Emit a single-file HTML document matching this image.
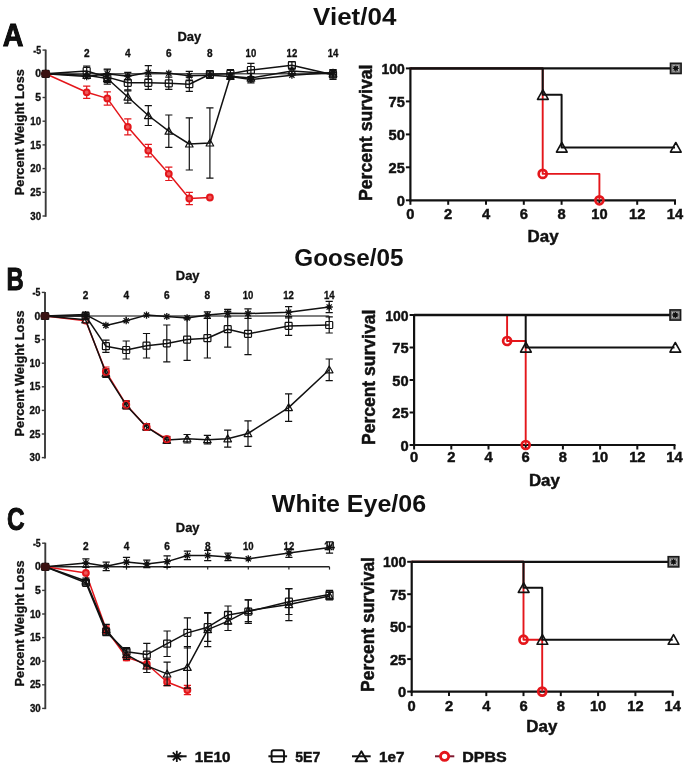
<!DOCTYPE html>
<html><head><meta charset="utf-8"><title>Figure</title>
<style>
html,body{margin:0;padding:0;background:#fff;}
body{width:685px;height:771px;overflow:hidden;font-family:"Liberation Sans",sans-serif;}
svg{display:block;will-change:transform;filter:blur(0.35px);}
</style></head>
<body>
<svg width="685" height="771" viewBox="0 0 685 771" font-family="'Liberation Sans', sans-serif" font-weight="bold">
<rect width="685" height="771" fill="#fff"/>
<text x="2.7" y="46.2" font-size="31" text-anchor="start" fill="#111" textLength="20.7" lengthAdjust="spacingAndGlyphs" stroke="#000" stroke-width="0.9">A</text>
<text x="6.6" y="289.8" font-size="31" text-anchor="start" fill="#111" textLength="17.2" lengthAdjust="spacingAndGlyphs" stroke="#000" stroke-width="0.9">B</text>
<text x="6.9" y="530.0" font-size="31" text-anchor="start" fill="#111" textLength="17.6" lengthAdjust="spacingAndGlyphs" stroke="#000" stroke-width="0.9">C</text>
<text x="313.1" y="25.4" font-size="23.5" text-anchor="start" fill="#111" textLength="83.3" lengthAdjust="spacingAndGlyphs" >Viet/04</text>
<text x="294.3" y="265.7" font-size="23.5" text-anchor="start" fill="#111" textLength="109.3" lengthAdjust="spacingAndGlyphs" >Goose/05</text>
<text x="271.8" y="511.8" font-size="23.5" text-anchor="start" fill="#111" textLength="154.3" lengthAdjust="spacingAndGlyphs" >White Eye/06</text>
<line x1="45.7" y1="49.6" x2="45.7" y2="216.8" stroke="#3a3a3a" stroke-width="1.9" />
<line x1="42.5" y1="50.1" x2="45.7" y2="50.1" stroke="#3a3a3a" stroke-width="1.4" />
<text x="41.1" y="53.7" font-size="10" text-anchor="end" fill="#111" textLength="7.8" lengthAdjust="spacingAndGlyphs" stroke="#111" stroke-width="0.32" >-5</text>
<line x1="42.5" y1="73.8" x2="45.7" y2="73.8" stroke="#3a3a3a" stroke-width="1.4" />
<text x="41.1" y="77.4" font-size="10" text-anchor="end" fill="#111" textLength="5.8" lengthAdjust="spacingAndGlyphs" stroke="#111" stroke-width="0.32" >0</text>
<line x1="42.5" y1="97.5" x2="45.7" y2="97.5" stroke="#3a3a3a" stroke-width="1.4" />
<text x="41.1" y="101.1" font-size="10" text-anchor="end" fill="#111" textLength="5.8" lengthAdjust="spacingAndGlyphs" stroke="#111" stroke-width="0.32" >5</text>
<line x1="42.5" y1="121.2" x2="45.7" y2="121.2" stroke="#3a3a3a" stroke-width="1.4" />
<text x="41.1" y="124.8" font-size="10" text-anchor="end" fill="#111" textLength="10.8" lengthAdjust="spacingAndGlyphs" stroke="#111" stroke-width="0.32" >10</text>
<line x1="42.5" y1="144.9" x2="45.7" y2="144.9" stroke="#3a3a3a" stroke-width="1.4" />
<text x="41.1" y="148.5" font-size="10" text-anchor="end" fill="#111" textLength="10.8" lengthAdjust="spacingAndGlyphs" stroke="#111" stroke-width="0.32" >15</text>
<line x1="42.5" y1="168.6" x2="45.7" y2="168.6" stroke="#3a3a3a" stroke-width="1.4" />
<text x="41.1" y="172.2" font-size="10" text-anchor="end" fill="#111" textLength="10.8" lengthAdjust="spacingAndGlyphs" stroke="#111" stroke-width="0.32" >20</text>
<line x1="42.5" y1="192.3" x2="45.7" y2="192.3" stroke="#3a3a3a" stroke-width="1.4" />
<text x="41.1" y="195.9" font-size="10" text-anchor="end" fill="#111" textLength="10.8" lengthAdjust="spacingAndGlyphs" stroke="#111" stroke-width="0.32" >25</text>
<line x1="42.5" y1="216.0" x2="45.7" y2="216.0" stroke="#3a3a3a" stroke-width="1.4" />
<text x="41.1" y="219.6" font-size="10" text-anchor="end" fill="#111" textLength="10.8" lengthAdjust="spacingAndGlyphs" stroke="#111" stroke-width="0.32" >30</text>
<line x1="45.7" y1="73.8" x2="333.0" y2="73.8" stroke="#555" stroke-width="1.4" />
<line x1="86.7" y1="73.8" x2="86.7" y2="76.6" stroke="#555" stroke-width="1.2" />
<line x1="127.8" y1="73.8" x2="127.8" y2="76.6" stroke="#555" stroke-width="1.2" />
<line x1="168.8" y1="73.8" x2="168.8" y2="76.6" stroke="#555" stroke-width="1.2" />
<line x1="209.9" y1="73.8" x2="209.9" y2="76.6" stroke="#555" stroke-width="1.2" />
<line x1="250.9" y1="73.8" x2="250.9" y2="76.6" stroke="#555" stroke-width="1.2" />
<line x1="291.9" y1="73.8" x2="291.9" y2="76.6" stroke="#555" stroke-width="1.2" />
<line x1="333.0" y1="73.8" x2="333.0" y2="76.6" stroke="#555" stroke-width="1.2" />
<text x="86.7" y="57.1" font-size="10" text-anchor="middle" fill="#111" textLength="5.6" lengthAdjust="spacingAndGlyphs" stroke="#111" stroke-width="0.32" >2</text>
<text x="127.8" y="57.1" font-size="10" text-anchor="middle" fill="#111" textLength="5.6" lengthAdjust="spacingAndGlyphs" stroke="#111" stroke-width="0.32" >4</text>
<text x="168.8" y="57.1" font-size="10" text-anchor="middle" fill="#111" textLength="5.6" lengthAdjust="spacingAndGlyphs" stroke="#111" stroke-width="0.32" >6</text>
<text x="209.9" y="57.1" font-size="10" text-anchor="middle" fill="#111" textLength="5.6" lengthAdjust="spacingAndGlyphs" stroke="#111" stroke-width="0.32" >8</text>
<text x="250.9" y="57.1" font-size="10" text-anchor="middle" fill="#111" textLength="10.6" lengthAdjust="spacingAndGlyphs" stroke="#111" stroke-width="0.32" >10</text>
<text x="291.9" y="57.1" font-size="10" text-anchor="middle" fill="#111" textLength="10.6" lengthAdjust="spacingAndGlyphs" stroke="#111" stroke-width="0.32" >12</text>
<text x="333.0" y="57.1" font-size="10" text-anchor="middle" fill="#111" textLength="10.6" lengthAdjust="spacingAndGlyphs" stroke="#111" stroke-width="0.32" >14</text>
<text x="177.4" y="40.7" font-size="13" text-anchor="start" fill="#111" textLength="23.8" lengthAdjust="spacingAndGlyphs" stroke="#111" stroke-width="0.32" >Day</text>
<text x="0" y="0" font-size="12.7" text-anchor="middle" fill="#111" stroke="#111" stroke-width="0.3" textLength="126.1" lengthAdjust="spacingAndGlyphs" transform="translate(24.2,132.2) rotate(-90)">Percent Weight Loss</text>
<path d="M86.7,86.1V98.4M83.1,86.1H90.3M83.1,98.4H90.3" stroke="#e4161b" stroke-width="1.2" fill="none"/>
<path d="M107.3,91.8V105.1M103.7,91.8H110.9M103.7,105.1H110.9" stroke="#e4161b" stroke-width="1.2" fill="none"/>
<path d="M127.8,118.8V134.9M124.2,118.8H131.4M124.2,134.9H131.4" stroke="#e4161b" stroke-width="1.2" fill="none"/>
<path d="M148.3,144.4V156.8M144.7,144.4H151.9M144.7,156.8H151.9" stroke="#e4161b" stroke-width="1.2" fill="none"/>
<path d="M168.8,167.2V180.5M165.2,167.2H172.4M165.2,180.5H172.4" stroke="#e4161b" stroke-width="1.2" fill="none"/>
<path d="M189.3,192.3V204.6M185.7,192.3H192.9M185.7,204.6H192.9" stroke="#e4161b" stroke-width="1.2" fill="none"/>
<polyline points="45.7,73.8 86.7,92.3 107.3,98.4 127.8,126.9 148.3,150.6 168.8,173.8 189.3,198.5 209.9,197.5" fill="none" stroke="#e4161b" stroke-width="1.5" stroke-linejoin="round"/>
<circle cx="45.7" cy="73.8" r="2.9" fill="#ec5a5a" stroke="#e4161b" stroke-width="2.0"/>
<circle cx="86.7" cy="92.3" r="2.9" fill="#ec5a5a" stroke="#e4161b" stroke-width="2.0"/>
<circle cx="107.3" cy="98.4" r="2.9" fill="#ec5a5a" stroke="#e4161b" stroke-width="2.0"/>
<circle cx="127.8" cy="126.9" r="2.9" fill="#ec5a5a" stroke="#e4161b" stroke-width="2.0"/>
<circle cx="148.3" cy="150.6" r="2.9" fill="#ec5a5a" stroke="#e4161b" stroke-width="2.0"/>
<circle cx="168.8" cy="173.8" r="2.9" fill="#ec5a5a" stroke="#e4161b" stroke-width="2.0"/>
<circle cx="189.3" cy="198.5" r="2.9" fill="#ec5a5a" stroke="#e4161b" stroke-width="2.0"/>
<circle cx="209.9" cy="197.5" r="2.9" fill="#ec5a5a" stroke="#e4161b" stroke-width="2.0"/>
<path d="M107.3,74.7V82.3M103.7,74.7H110.9M103.7,82.3H110.9" stroke="#111" stroke-width="1.2" fill="none"/>
<path d="M127.8,90.9V103.2M124.2,90.9H131.4M124.2,103.2H131.4" stroke="#111" stroke-width="1.2" fill="none"/>
<path d="M148.3,105.6V125.5M144.7,105.6H151.9M144.7,125.5H151.9" stroke="#111" stroke-width="1.2" fill="none"/>
<path d="M168.8,115.0V147.3M165.2,115.0H172.4M165.2,147.3H172.4" stroke="#111" stroke-width="1.2" fill="none"/>
<path d="M189.3,117.9V170.0M185.7,117.9H192.9M185.7,170.0H192.9" stroke="#111" stroke-width="1.2" fill="none"/>
<path d="M209.9,107.9V178.1M206.3,107.9H213.5M206.3,178.1H213.5" stroke="#111" stroke-width="1.2" fill="none"/>
<path d="M230.4,72.9V79.5M226.8,72.9H234.0M226.8,79.5H234.0" stroke="#111" stroke-width="1.2" fill="none"/>
<path d="M250.9,73.3V82.8M247.3,73.3H254.5M247.3,82.8H254.5" stroke="#111" stroke-width="1.2" fill="none"/>
<path d="M291.9,68.1V73.8M288.3,68.1H295.5M288.3,73.8H295.5" stroke="#111" stroke-width="1.2" fill="none"/>
<path d="M333.0,70.5V77.1M329.4,70.5H336.6M329.4,77.1H336.6" stroke="#111" stroke-width="1.2" fill="none"/>
<polyline points="45.7,73.8 86.7,75.2 107.3,78.5 127.8,97.0 148.3,115.5 168.8,131.2 189.3,144.0 209.9,143.0 230.4,76.2 250.9,78.1 291.9,71.0 333.0,73.8" fill="none" stroke="#111" stroke-width="1.5" stroke-linejoin="round"/>
<path d="M45.7,70.0L49.5,76.8L41.9,76.8Z" fill="none" stroke="#111" stroke-width="1.2" stroke-linejoin="round"/>
<path d="M86.7,71.4L90.5,78.3L82.9,78.3Z" fill="none" stroke="#111" stroke-width="1.2" stroke-linejoin="round"/>
<path d="M107.3,74.7L111.1,81.6L103.5,81.6Z" fill="none" stroke="#111" stroke-width="1.2" stroke-linejoin="round"/>
<path d="M127.8,93.2L131.6,100.1L124.0,100.1Z" fill="none" stroke="#111" stroke-width="1.2" stroke-linejoin="round"/>
<path d="M148.3,111.7L152.1,118.6L144.5,118.6Z" fill="none" stroke="#111" stroke-width="1.2" stroke-linejoin="round"/>
<path d="M168.8,127.4L172.6,134.2L165.0,134.2Z" fill="none" stroke="#111" stroke-width="1.2" stroke-linejoin="round"/>
<path d="M189.3,140.2L193.1,147.0L185.5,147.0Z" fill="none" stroke="#111" stroke-width="1.2" stroke-linejoin="round"/>
<path d="M209.9,139.2L213.7,146.0L206.1,146.0Z" fill="none" stroke="#111" stroke-width="1.2" stroke-linejoin="round"/>
<path d="M230.4,72.4L234.2,79.2L226.6,79.2Z" fill="none" stroke="#111" stroke-width="1.2" stroke-linejoin="round"/>
<path d="M250.9,74.3L254.7,81.1L247.1,81.1Z" fill="none" stroke="#111" stroke-width="1.2" stroke-linejoin="round"/>
<path d="M291.9,67.2L295.7,74.0L288.1,74.0Z" fill="none" stroke="#111" stroke-width="1.2" stroke-linejoin="round"/>
<path d="M333.0,70.0L336.8,76.8L329.2,76.8Z" fill="none" stroke="#111" stroke-width="1.2" stroke-linejoin="round"/>
<path d="M86.7,66.2V75.7M83.1,66.2H90.3M83.1,75.7H90.3" stroke="#111" stroke-width="1.2" fill="none"/>
<path d="M107.3,70.0V84.2M103.7,70.0H110.9M103.7,84.2H110.9" stroke="#111" stroke-width="1.2" fill="none"/>
<path d="M127.8,75.7V89.9M124.2,75.7H131.4M124.2,89.9H131.4" stroke="#111" stroke-width="1.2" fill="none"/>
<path d="M148.3,76.2V89.4M144.7,76.2H151.9M144.7,89.4H151.9" stroke="#111" stroke-width="1.2" fill="none"/>
<path d="M168.8,77.1V89.4M165.2,77.1H172.4M165.2,89.4H172.4" stroke="#111" stroke-width="1.2" fill="none"/>
<path d="M189.3,77.1V91.3M185.7,77.1H192.9M185.7,91.3H192.9" stroke="#111" stroke-width="1.2" fill="none"/>
<path d="M209.9,70.5V78.1M206.3,70.5H213.5M206.3,78.1H213.5" stroke="#111" stroke-width="1.2" fill="none"/>
<path d="M230.4,69.5V78.1M226.8,69.5H234.0M226.8,78.1H234.0" stroke="#111" stroke-width="1.2" fill="none"/>
<path d="M250.9,63.4V76.6M247.3,63.4H254.5M247.3,76.6H254.5" stroke="#111" stroke-width="1.2" fill="none"/>
<path d="M291.9,61.5V69.1M288.3,61.5H295.5M288.3,69.1H295.5" stroke="#111" stroke-width="1.2" fill="none"/>
<path d="M333.0,70.0V79.5M329.4,70.0H336.6M329.4,79.5H336.6" stroke="#111" stroke-width="1.2" fill="none"/>
<polyline points="45.7,73.8 86.7,71.0 107.3,77.1 127.8,82.8 148.3,82.8 168.8,83.3 189.3,84.2 209.9,74.3 230.4,73.8 250.9,70.0 291.9,65.3 333.0,74.7" fill="none" stroke="#111" stroke-width="1.5" stroke-linejoin="round"/>
<rect x="42.2" y="70.3" width="7.0" height="7.0" rx="0.8" fill="none" stroke="#111" stroke-width="1.2"/>
<rect x="83.2" y="67.5" width="7.0" height="7.0" rx="0.8" fill="none" stroke="#111" stroke-width="1.2"/>
<rect x="103.8" y="73.6" width="7.0" height="7.0" rx="0.8" fill="none" stroke="#111" stroke-width="1.2"/>
<rect x="124.3" y="79.3" width="7.0" height="7.0" rx="0.8" fill="none" stroke="#111" stroke-width="1.2"/>
<rect x="144.8" y="79.3" width="7.0" height="7.0" rx="0.8" fill="none" stroke="#111" stroke-width="1.2"/>
<rect x="165.3" y="79.8" width="7.0" height="7.0" rx="0.8" fill="none" stroke="#111" stroke-width="1.2"/>
<rect x="185.8" y="80.7" width="7.0" height="7.0" rx="0.8" fill="none" stroke="#111" stroke-width="1.2"/>
<rect x="206.4" y="70.8" width="7.0" height="7.0" rx="0.8" fill="none" stroke="#111" stroke-width="1.2"/>
<rect x="226.9" y="70.3" width="7.0" height="7.0" rx="0.8" fill="none" stroke="#111" stroke-width="1.2"/>
<rect x="247.4" y="66.5" width="7.0" height="7.0" rx="0.8" fill="none" stroke="#111" stroke-width="1.2"/>
<rect x="288.4" y="61.8" width="7.0" height="7.0" rx="0.8" fill="none" stroke="#111" stroke-width="1.2"/>
<rect x="329.5" y="71.2" width="7.0" height="7.0" rx="0.8" fill="none" stroke="#111" stroke-width="1.2"/>
<path d="M107.3,69.1V78.5M103.7,69.1H110.9M103.7,78.5H110.9" stroke="#111" stroke-width="1.2" fill="none"/>
<path d="M127.8,72.4V80.0M124.2,72.4H131.4M124.2,80.0H131.4" stroke="#111" stroke-width="1.2" fill="none"/>
<path d="M148.3,65.7V79.0M144.7,65.7H151.9M144.7,79.0H151.9" stroke="#111" stroke-width="1.2" fill="none"/>
<path d="M189.3,71.4V80.0M185.7,71.4H192.9M185.7,80.0H192.9" stroke="#111" stroke-width="1.2" fill="none"/>
<path d="M209.9,71.9V78.5M206.3,71.9H213.5M206.3,78.5H213.5" stroke="#111" stroke-width="1.2" fill="none"/>
<path d="M333.0,69.5V75.2M329.4,69.5H336.6M329.4,75.2H336.6" stroke="#111" stroke-width="1.2" fill="none"/>
<polyline points="45.7,73.8 86.7,76.6 107.3,73.8 127.8,76.2 148.3,72.4 168.8,73.3 189.3,75.7 209.9,75.2 230.4,76.6 250.9,79.5 291.9,75.2 333.0,72.4" fill="none" stroke="#111" stroke-width="1.5" stroke-linejoin="round"/>
<path d="M42.1,73.8H49.3M45.7,70.2V77.4M43.1,71.2L48.3,76.4M43.1,76.4L48.3,71.2" stroke="#111" stroke-width="1.3" fill="none"/>
<path d="M83.1,76.6H90.3M86.7,73.0V80.2M84.1,74.1L89.3,79.2M84.1,79.2L89.3,74.1" stroke="#111" stroke-width="1.3" fill="none"/>
<path d="M103.7,73.8H110.9M107.3,70.2V77.4M104.7,71.2L109.9,76.4M104.7,76.4L109.9,71.2" stroke="#111" stroke-width="1.3" fill="none"/>
<path d="M124.2,76.2H131.4M127.8,72.6V79.8M125.2,73.6L130.4,78.8M125.2,78.8L130.4,73.6" stroke="#111" stroke-width="1.3" fill="none"/>
<path d="M144.7,72.4H151.9M148.3,68.8V76.0M145.7,69.8L150.9,75.0M145.7,75.0L150.9,69.8" stroke="#111" stroke-width="1.3" fill="none"/>
<path d="M165.2,73.3H172.4M168.8,69.7V76.9M166.2,70.7L171.4,75.9M166.2,75.9L171.4,70.7" stroke="#111" stroke-width="1.3" fill="none"/>
<path d="M185.7,75.7H192.9M189.3,72.1V79.3M186.7,73.1L191.9,78.3M186.7,78.3L191.9,73.1" stroke="#111" stroke-width="1.3" fill="none"/>
<path d="M206.3,75.2H213.5M209.9,71.6V78.8M207.3,72.6L212.5,77.8M207.3,77.8L212.5,72.6" stroke="#111" stroke-width="1.3" fill="none"/>
<path d="M226.8,76.6H234.0M230.4,73.0V80.2M227.8,74.1L233.0,79.2M227.8,79.2L233.0,74.1" stroke="#111" stroke-width="1.3" fill="none"/>
<path d="M247.3,79.5H254.5M250.9,75.9V83.1M248.3,76.9L253.5,82.1M248.3,82.1L253.5,76.9" stroke="#111" stroke-width="1.3" fill="none"/>
<path d="M288.3,75.2H295.5M291.9,71.6V78.8M289.3,72.6L294.5,77.8M289.3,77.8L294.5,72.6" stroke="#111" stroke-width="1.3" fill="none"/>
<path d="M329.4,72.4H336.6M333.0,68.8V76.0M330.4,69.8L335.6,75.0M330.4,75.0L335.6,69.8" stroke="#111" stroke-width="1.3" fill="none"/>
<ellipse cx="45.7" cy="73.8" rx="4.8" ry="4.0" fill="#3a1212"/>
<line x1="45.0" y1="291.9" x2="45.0" y2="458.4" stroke="#3a3a3a" stroke-width="1.9" />
<line x1="41.8" y1="292.4" x2="45.0" y2="292.4" stroke="#3a3a3a" stroke-width="1.4" />
<text x="40.4" y="296.0" font-size="10" text-anchor="end" fill="#111" textLength="7.8" lengthAdjust="spacingAndGlyphs" stroke="#111" stroke-width="0.32" >-5</text>
<line x1="41.8" y1="316.0" x2="45.0" y2="316.0" stroke="#3a3a3a" stroke-width="1.4" />
<text x="40.4" y="319.6" font-size="10" text-anchor="end" fill="#111" textLength="5.8" lengthAdjust="spacingAndGlyphs" stroke="#111" stroke-width="0.32" >0</text>
<line x1="41.8" y1="339.6" x2="45.0" y2="339.6" stroke="#3a3a3a" stroke-width="1.4" />
<text x="40.4" y="343.2" font-size="10" text-anchor="end" fill="#111" textLength="5.8" lengthAdjust="spacingAndGlyphs" stroke="#111" stroke-width="0.32" >5</text>
<line x1="41.8" y1="363.2" x2="45.0" y2="363.2" stroke="#3a3a3a" stroke-width="1.4" />
<text x="40.4" y="366.8" font-size="10" text-anchor="end" fill="#111" textLength="10.8" lengthAdjust="spacingAndGlyphs" stroke="#111" stroke-width="0.32" >10</text>
<line x1="41.8" y1="386.8" x2="45.0" y2="386.8" stroke="#3a3a3a" stroke-width="1.4" />
<text x="40.4" y="390.4" font-size="10" text-anchor="end" fill="#111" textLength="10.8" lengthAdjust="spacingAndGlyphs" stroke="#111" stroke-width="0.32" >15</text>
<line x1="41.8" y1="410.4" x2="45.0" y2="410.4" stroke="#3a3a3a" stroke-width="1.4" />
<text x="40.4" y="414.0" font-size="10" text-anchor="end" fill="#111" textLength="10.8" lengthAdjust="spacingAndGlyphs" stroke="#111" stroke-width="0.32" >20</text>
<line x1="41.8" y1="434.0" x2="45.0" y2="434.0" stroke="#3a3a3a" stroke-width="1.4" />
<text x="40.4" y="437.6" font-size="10" text-anchor="end" fill="#111" textLength="10.8" lengthAdjust="spacingAndGlyphs" stroke="#111" stroke-width="0.32" >25</text>
<line x1="41.8" y1="457.6" x2="45.0" y2="457.6" stroke="#3a3a3a" stroke-width="1.4" />
<text x="40.4" y="461.2" font-size="10" text-anchor="end" fill="#111" textLength="10.8" lengthAdjust="spacingAndGlyphs" stroke="#111" stroke-width="0.32" >30</text>
<line x1="45.0" y1="316.0" x2="329.2" y2="316.0" stroke="#555" stroke-width="1.4" />
<line x1="85.6" y1="316.0" x2="85.6" y2="318.8" stroke="#555" stroke-width="1.2" />
<line x1="126.2" y1="316.0" x2="126.2" y2="318.8" stroke="#555" stroke-width="1.2" />
<line x1="166.8" y1="316.0" x2="166.8" y2="318.8" stroke="#555" stroke-width="1.2" />
<line x1="207.4" y1="316.0" x2="207.4" y2="318.8" stroke="#555" stroke-width="1.2" />
<line x1="248.0" y1="316.0" x2="248.0" y2="318.8" stroke="#555" stroke-width="1.2" />
<line x1="288.6" y1="316.0" x2="288.6" y2="318.8" stroke="#555" stroke-width="1.2" />
<line x1="329.2" y1="316.0" x2="329.2" y2="318.8" stroke="#555" stroke-width="1.2" />
<text x="85.6" y="299.3" font-size="10" text-anchor="middle" fill="#111" textLength="5.6" lengthAdjust="spacingAndGlyphs" stroke="#111" stroke-width="0.32" >2</text>
<text x="126.2" y="299.3" font-size="10" text-anchor="middle" fill="#111" textLength="5.6" lengthAdjust="spacingAndGlyphs" stroke="#111" stroke-width="0.32" >4</text>
<text x="166.8" y="299.3" font-size="10" text-anchor="middle" fill="#111" textLength="5.6" lengthAdjust="spacingAndGlyphs" stroke="#111" stroke-width="0.32" >6</text>
<text x="207.4" y="299.3" font-size="10" text-anchor="middle" fill="#111" textLength="5.6" lengthAdjust="spacingAndGlyphs" stroke="#111" stroke-width="0.32" >8</text>
<text x="248.0" y="299.3" font-size="10" text-anchor="middle" fill="#111" textLength="10.6" lengthAdjust="spacingAndGlyphs" stroke="#111" stroke-width="0.32" >10</text>
<text x="288.6" y="299.3" font-size="10" text-anchor="middle" fill="#111" textLength="10.6" lengthAdjust="spacingAndGlyphs" stroke="#111" stroke-width="0.32" >12</text>
<text x="329.2" y="299.3" font-size="10" text-anchor="middle" fill="#111" textLength="10.6" lengthAdjust="spacingAndGlyphs" stroke="#111" stroke-width="0.32" >14</text>
<text x="175.8" y="279.9" font-size="13" text-anchor="start" fill="#111" textLength="23.8" lengthAdjust="spacingAndGlyphs" stroke="#111" stroke-width="0.32" >Day</text>
<text x="0" y="0" font-size="12.7" text-anchor="middle" fill="#111" stroke="#111" stroke-width="0.3" textLength="126.0" lengthAdjust="spacingAndGlyphs" transform="translate(24.2,373.4) rotate(-90)">Percent Weight Loss</text>
<path d="M105.9,367.0V376.4M102.3,367.0H109.5M102.3,376.4H109.5" stroke="#e4161b" stroke-width="1.2" fill="none"/>
<path d="M126.2,400.5V409.0M122.6,400.5H129.8M122.6,409.0H129.8" stroke="#e4161b" stroke-width="1.2" fill="none"/>
<path d="M146.5,423.6V430.2M142.9,423.6H150.1M142.9,430.2H150.1" stroke="#e4161b" stroke-width="1.2" fill="none"/>
<path d="M166.8,436.4V442.0M163.2,436.4H170.4M163.2,442.0H170.4" stroke="#e4161b" stroke-width="1.2" fill="none"/>
<polyline points="45.0,316.0 85.6,320.7 105.9,371.7 126.2,404.7 146.5,426.9 166.8,439.2" fill="none" stroke="#e4161b" stroke-width="1.5" stroke-linejoin="round"/>
<circle cx="45.0" cy="316.0" r="2.9" fill="#fff" stroke="#e4161b" stroke-width="1.8"/>
<circle cx="85.6" cy="320.7" r="2.9" fill="#fff" stroke="#e4161b" stroke-width="1.8"/>
<circle cx="105.9" cy="371.7" r="2.9" fill="#fff" stroke="#e4161b" stroke-width="1.8"/>
<circle cx="126.2" cy="404.7" r="2.9" fill="#fff" stroke="#e4161b" stroke-width="1.8"/>
<circle cx="146.5" cy="426.9" r="2.9" fill="#fff" stroke="#e4161b" stroke-width="1.8"/>
<circle cx="166.8" cy="439.2" r="2.9" fill="#fff" stroke="#e4161b" stroke-width="1.8"/>
<path d="M105.9,368.9V377.4M102.3,368.9H109.5M102.3,377.4H109.5" stroke="#111" stroke-width="1.2" fill="none"/>
<path d="M126.2,401.4V409.0M122.6,401.4H129.8M122.6,409.0H129.8" stroke="#111" stroke-width="1.2" fill="none"/>
<path d="M146.5,424.1V429.8M142.9,424.1H150.1M142.9,429.8H150.1" stroke="#111" stroke-width="1.2" fill="none"/>
<path d="M166.8,436.8V443.4M163.2,436.8H170.4M163.2,443.4H170.4" stroke="#111" stroke-width="1.2" fill="none"/>
<path d="M187.1,434.5V443.0M183.5,434.5H190.7M183.5,443.0H190.7" stroke="#111" stroke-width="1.2" fill="none"/>
<path d="M207.4,435.4V443.9M203.8,435.4H211.0M203.8,443.9H211.0" stroke="#111" stroke-width="1.2" fill="none"/>
<path d="M227.7,430.2V447.2M224.1,430.2H231.3M224.1,447.2H231.3" stroke="#111" stroke-width="1.2" fill="none"/>
<path d="M248.0,420.8V446.3M244.4,420.8H251.6M244.4,446.3H251.6" stroke="#111" stroke-width="1.2" fill="none"/>
<path d="M288.6,393.9V421.3M285.0,393.9H292.2M285.0,421.3H292.2" stroke="#111" stroke-width="1.2" fill="none"/>
<path d="M329.2,359.0V380.7M325.6,359.0H332.8M325.6,380.7H332.8" stroke="#111" stroke-width="1.2" fill="none"/>
<polyline points="45.0,316.0 85.6,319.8 105.9,373.1 126.2,405.2 146.5,426.9 166.8,440.1 187.1,438.7 207.4,439.7 227.7,438.7 248.0,433.5 288.6,407.6 329.2,369.8" fill="none" stroke="#111" stroke-width="1.5" stroke-linejoin="round"/>
<path d="M45.0,312.2L48.8,319.0L41.2,319.0Z" fill="none" stroke="#111" stroke-width="1.2" stroke-linejoin="round"/>
<path d="M85.6,316.0L89.4,322.8L81.8,322.8Z" fill="none" stroke="#111" stroke-width="1.2" stroke-linejoin="round"/>
<path d="M105.9,369.3L109.7,376.2L102.1,376.2Z" fill="none" stroke="#111" stroke-width="1.2" stroke-linejoin="round"/>
<path d="M126.2,401.4L130.0,408.2L122.4,408.2Z" fill="none" stroke="#111" stroke-width="1.2" stroke-linejoin="round"/>
<path d="M146.5,423.1L150.3,430.0L142.7,430.0Z" fill="none" stroke="#111" stroke-width="1.2" stroke-linejoin="round"/>
<path d="M166.8,436.3L170.6,443.2L163.0,443.2Z" fill="none" stroke="#111" stroke-width="1.2" stroke-linejoin="round"/>
<path d="M187.1,434.9L190.9,441.8L183.3,441.8Z" fill="none" stroke="#111" stroke-width="1.2" stroke-linejoin="round"/>
<path d="M207.4,435.9L211.2,442.7L203.6,442.7Z" fill="none" stroke="#111" stroke-width="1.2" stroke-linejoin="round"/>
<path d="M227.7,434.9L231.5,441.8L223.9,441.8Z" fill="none" stroke="#111" stroke-width="1.2" stroke-linejoin="round"/>
<path d="M248.0,429.7L251.8,436.6L244.2,436.6Z" fill="none" stroke="#111" stroke-width="1.2" stroke-linejoin="round"/>
<path d="M288.6,403.8L292.4,410.6L284.8,410.6Z" fill="none" stroke="#111" stroke-width="1.2" stroke-linejoin="round"/>
<path d="M329.2,366.0L333.0,372.8L325.4,372.8Z" fill="none" stroke="#111" stroke-width="1.2" stroke-linejoin="round"/>
<path d="M85.6,313.2V318.8M82.0,313.2H89.2M82.0,318.8H89.2" stroke="#111" stroke-width="1.2" fill="none"/>
<path d="M105.9,340.1V352.3M102.3,340.1H109.5M102.3,352.3H109.5" stroke="#111" stroke-width="1.2" fill="none"/>
<path d="M126.2,341.0V359.0M122.6,341.0H129.8M122.6,359.0H129.8" stroke="#111" stroke-width="1.2" fill="none"/>
<path d="M146.5,333.5V358.0M142.9,333.5H150.1M142.9,358.0H150.1" stroke="#111" stroke-width="1.2" fill="none"/>
<path d="M166.8,325.0V361.8M163.2,325.0H170.4M163.2,361.8H170.4" stroke="#111" stroke-width="1.2" fill="none"/>
<path d="M187.1,318.8V360.4M183.5,318.8H190.7M183.5,360.4H190.7" stroke="#111" stroke-width="1.2" fill="none"/>
<path d="M207.4,318.4V358.0M203.8,318.4H211.0M203.8,358.0H211.0" stroke="#111" stroke-width="1.2" fill="none"/>
<path d="M227.7,311.3V347.2M224.1,311.3H231.3M224.1,347.2H231.3" stroke="#111" stroke-width="1.2" fill="none"/>
<path d="M248.0,313.2V354.7M244.4,313.2H251.6M244.4,354.7H251.6" stroke="#111" stroke-width="1.2" fill="none"/>
<path d="M288.6,316.5V335.4M285.0,316.5H292.2M285.0,335.4H292.2" stroke="#111" stroke-width="1.2" fill="none"/>
<path d="M329.2,316.9V333.0M325.6,316.9H332.8M325.6,333.0H332.8" stroke="#111" stroke-width="1.2" fill="none"/>
<polyline points="45.0,316.0 85.6,316.0 105.9,346.2 126.2,350.0 146.5,345.7 166.8,343.4 187.1,339.6 207.4,338.2 227.7,329.2 248.0,333.9 288.6,325.9 329.2,325.0" fill="none" stroke="#111" stroke-width="1.5" stroke-linejoin="round"/>
<rect x="41.5" y="312.5" width="7.0" height="7.0" rx="0.8" fill="none" stroke="#111" stroke-width="1.2"/>
<rect x="82.1" y="312.5" width="7.0" height="7.0" rx="0.8" fill="none" stroke="#111" stroke-width="1.2"/>
<rect x="102.4" y="342.7" width="7.0" height="7.0" rx="0.8" fill="none" stroke="#111" stroke-width="1.2"/>
<rect x="122.7" y="346.5" width="7.0" height="7.0" rx="0.8" fill="none" stroke="#111" stroke-width="1.2"/>
<rect x="143.0" y="342.2" width="7.0" height="7.0" rx="0.8" fill="none" stroke="#111" stroke-width="1.2"/>
<rect x="163.3" y="339.9" width="7.0" height="7.0" rx="0.8" fill="none" stroke="#111" stroke-width="1.2"/>
<rect x="183.6" y="336.1" width="7.0" height="7.0" rx="0.8" fill="none" stroke="#111" stroke-width="1.2"/>
<rect x="203.9" y="334.7" width="7.0" height="7.0" rx="0.8" fill="none" stroke="#111" stroke-width="1.2"/>
<rect x="224.2" y="325.7" width="7.0" height="7.0" rx="0.8" fill="none" stroke="#111" stroke-width="1.2"/>
<rect x="244.5" y="330.4" width="7.0" height="7.0" rx="0.8" fill="none" stroke="#111" stroke-width="1.2"/>
<rect x="285.1" y="322.4" width="7.0" height="7.0" rx="0.8" fill="none" stroke="#111" stroke-width="1.2"/>
<rect x="325.7" y="321.5" width="7.0" height="7.0" rx="0.8" fill="none" stroke="#111" stroke-width="1.2"/>
<path d="M85.6,312.2V316.9M82.0,312.2H89.2M82.0,316.9H89.2" stroke="#111" stroke-width="1.2" fill="none"/>
<path d="M207.4,311.8V318.4M203.8,311.8H211.0M203.8,318.4H211.0" stroke="#111" stroke-width="1.2" fill="none"/>
<path d="M227.7,309.4V316.9M224.1,309.4H231.3M224.1,316.9H231.3" stroke="#111" stroke-width="1.2" fill="none"/>
<path d="M248.0,308.9V318.4M244.4,308.9H251.6M244.4,318.4H251.6" stroke="#111" stroke-width="1.2" fill="none"/>
<path d="M288.6,306.6V317.9M285.0,306.6H292.2M285.0,317.9H292.2" stroke="#111" stroke-width="1.2" fill="none"/>
<path d="M329.2,301.4V312.7M325.6,301.4H332.8M325.6,312.7H332.8" stroke="#111" stroke-width="1.2" fill="none"/>
<polyline points="45.0,316.0 85.6,314.6 105.9,325.4 126.2,320.7 146.5,315.1 166.8,316.5 187.1,317.9 207.4,315.1 227.7,313.2 248.0,313.6 288.6,312.2 329.2,307.0" fill="none" stroke="#111" stroke-width="1.5" stroke-linejoin="round"/>
<path d="M41.4,316.0H48.6M45.0,312.4V319.6M42.4,313.4L47.6,318.6M42.4,318.6L47.6,313.4" stroke="#111" stroke-width="1.3" fill="none"/>
<path d="M82.0,314.6H89.2M85.6,311.0V318.2M83.0,312.0L88.2,317.2M83.0,317.2L88.2,312.0" stroke="#111" stroke-width="1.3" fill="none"/>
<path d="M102.3,325.4H109.5M105.9,321.8V329.0M103.3,322.8L108.5,328.0M103.3,328.0L108.5,322.8" stroke="#111" stroke-width="1.3" fill="none"/>
<path d="M122.6,320.7H129.8M126.2,317.1V324.3M123.6,318.1L128.8,323.3M123.6,323.3L128.8,318.1" stroke="#111" stroke-width="1.3" fill="none"/>
<path d="M142.9,315.1H150.1M146.5,311.5V318.7M143.9,312.5L149.1,317.6M143.9,317.6L149.1,312.5" stroke="#111" stroke-width="1.3" fill="none"/>
<path d="M163.2,316.5H170.4M166.8,312.9V320.1M164.2,313.9L169.4,319.1M164.2,319.1L169.4,313.9" stroke="#111" stroke-width="1.3" fill="none"/>
<path d="M183.5,317.9H190.7M187.1,314.3V321.5M184.5,315.3L189.7,320.5M184.5,320.5L189.7,315.3" stroke="#111" stroke-width="1.3" fill="none"/>
<path d="M203.8,315.1H211.0M207.4,311.5V318.7M204.8,312.5L210.0,317.6M204.8,317.6L210.0,312.5" stroke="#111" stroke-width="1.3" fill="none"/>
<path d="M224.1,313.2H231.3M227.7,309.6V316.8M225.1,310.6L230.3,315.8M225.1,315.8L230.3,310.6" stroke="#111" stroke-width="1.3" fill="none"/>
<path d="M244.4,313.6H251.6M248.0,310.0V317.2M245.4,311.0L250.6,316.2M245.4,316.2L250.6,311.0" stroke="#111" stroke-width="1.3" fill="none"/>
<path d="M285.0,312.2H292.2M288.6,308.6V315.8M286.0,309.6L291.2,314.8M286.0,314.8L291.2,309.6" stroke="#111" stroke-width="1.3" fill="none"/>
<path d="M325.6,307.0H332.8M329.2,303.4V310.6M326.6,304.4L331.8,309.6M326.6,309.6L331.8,304.4" stroke="#111" stroke-width="1.3" fill="none"/>
<circle cx="105.9" cy="371.7" r="3.3" fill="none" stroke="#e4161b" stroke-width="1.4"/>
<circle cx="126.2" cy="404.7" r="3.3" fill="none" stroke="#e4161b" stroke-width="1.4"/>
<circle cx="146.5" cy="426.9" r="3.3" fill="none" stroke="#e4161b" stroke-width="1.4"/>
<circle cx="166.8" cy="439.2" r="3.3" fill="none" stroke="#e4161b" stroke-width="1.4"/>
<ellipse cx="45.0" cy="316.0" rx="4.8" ry="4.0" fill="#3a1212"/>
<line x1="45.3" y1="542.7" x2="45.3" y2="709.2" stroke="#3a3a3a" stroke-width="1.9" />
<line x1="42.1" y1="543.2" x2="45.3" y2="543.2" stroke="#3a3a3a" stroke-width="1.4" />
<text x="40.7" y="546.8" font-size="10" text-anchor="end" fill="#111" textLength="7.8" lengthAdjust="spacingAndGlyphs" stroke="#111" stroke-width="0.32" >-5</text>
<line x1="42.1" y1="566.8" x2="45.3" y2="566.8" stroke="#3a3a3a" stroke-width="1.4" />
<text x="40.7" y="570.4" font-size="10" text-anchor="end" fill="#111" textLength="5.8" lengthAdjust="spacingAndGlyphs" stroke="#111" stroke-width="0.32" >0</text>
<line x1="42.1" y1="590.4" x2="45.3" y2="590.4" stroke="#3a3a3a" stroke-width="1.4" />
<text x="40.7" y="594.0" font-size="10" text-anchor="end" fill="#111" textLength="5.8" lengthAdjust="spacingAndGlyphs" stroke="#111" stroke-width="0.32" >5</text>
<line x1="42.1" y1="614.0" x2="45.3" y2="614.0" stroke="#3a3a3a" stroke-width="1.4" />
<text x="40.7" y="617.6" font-size="10" text-anchor="end" fill="#111" textLength="10.8" lengthAdjust="spacingAndGlyphs" stroke="#111" stroke-width="0.32" >10</text>
<line x1="42.1" y1="637.6" x2="45.3" y2="637.6" stroke="#3a3a3a" stroke-width="1.4" />
<text x="40.7" y="641.2" font-size="10" text-anchor="end" fill="#111" textLength="10.8" lengthAdjust="spacingAndGlyphs" stroke="#111" stroke-width="0.32" >15</text>
<line x1="42.1" y1="661.2" x2="45.3" y2="661.2" stroke="#3a3a3a" stroke-width="1.4" />
<text x="40.7" y="664.8" font-size="10" text-anchor="end" fill="#111" textLength="10.8" lengthAdjust="spacingAndGlyphs" stroke="#111" stroke-width="0.32" >20</text>
<line x1="42.1" y1="684.8" x2="45.3" y2="684.8" stroke="#3a3a3a" stroke-width="1.4" />
<text x="40.7" y="688.4" font-size="10" text-anchor="end" fill="#111" textLength="10.8" lengthAdjust="spacingAndGlyphs" stroke="#111" stroke-width="0.32" >25</text>
<line x1="42.1" y1="708.4" x2="45.3" y2="708.4" stroke="#3a3a3a" stroke-width="1.4" />
<text x="40.7" y="712.0" font-size="10" text-anchor="end" fill="#111" textLength="10.8" lengthAdjust="spacingAndGlyphs" stroke="#111" stroke-width="0.32" >30</text>
<line x1="45.3" y1="566.8" x2="329.5" y2="566.8" stroke="#222" stroke-width="1.4" />
<line x1="85.9" y1="566.8" x2="85.9" y2="569.6" stroke="#222" stroke-width="1.2" />
<line x1="126.5" y1="566.8" x2="126.5" y2="569.6" stroke="#222" stroke-width="1.2" />
<line x1="167.1" y1="566.8" x2="167.1" y2="569.6" stroke="#222" stroke-width="1.2" />
<line x1="207.7" y1="566.8" x2="207.7" y2="569.6" stroke="#222" stroke-width="1.2" />
<line x1="248.3" y1="566.8" x2="248.3" y2="569.6" stroke="#222" stroke-width="1.2" />
<line x1="288.9" y1="566.8" x2="288.9" y2="569.6" stroke="#222" stroke-width="1.2" />
<line x1="329.5" y1="566.8" x2="329.5" y2="569.6" stroke="#222" stroke-width="1.2" />
<text x="85.9" y="550.0" font-size="10" text-anchor="middle" fill="#111" textLength="5.6" lengthAdjust="spacingAndGlyphs" stroke="#111" stroke-width="0.32" >2</text>
<text x="126.5" y="550.0" font-size="10" text-anchor="middle" fill="#111" textLength="5.6" lengthAdjust="spacingAndGlyphs" stroke="#111" stroke-width="0.32" >4</text>
<text x="167.1" y="550.0" font-size="10" text-anchor="middle" fill="#111" textLength="5.6" lengthAdjust="spacingAndGlyphs" stroke="#111" stroke-width="0.32" >6</text>
<text x="207.7" y="550.0" font-size="10" text-anchor="middle" fill="#111" textLength="5.6" lengthAdjust="spacingAndGlyphs" stroke="#111" stroke-width="0.32" >8</text>
<text x="248.3" y="550.0" font-size="10" text-anchor="middle" fill="#111" textLength="10.6" lengthAdjust="spacingAndGlyphs" stroke="#111" stroke-width="0.32" >10</text>
<text x="288.9" y="550.0" font-size="10" text-anchor="middle" fill="#111" textLength="10.6" lengthAdjust="spacingAndGlyphs" stroke="#111" stroke-width="0.32" >12</text>
<text x="329.5" y="550.0" font-size="10" text-anchor="middle" fill="#111" textLength="10.6" lengthAdjust="spacingAndGlyphs" stroke="#111" stroke-width="0.32" >14</text>
<text x="175.8" y="531.5" font-size="13" text-anchor="start" fill="#111" textLength="23.8" lengthAdjust="spacingAndGlyphs" stroke="#111" stroke-width="0.32" >Day</text>
<text x="0" y="0" font-size="12.7" text-anchor="middle" fill="#111" stroke="#111" stroke-width="0.3" textLength="126.0" lengthAdjust="spacingAndGlyphs" transform="translate(24.2,623.4) rotate(-90)">Percent Weight Loss</text>
<path d="M106.2,625.8V633.4M102.6,625.8H109.8M102.6,633.4H109.8" stroke="#e4161b" stroke-width="1.2" fill="none"/>
<path d="M126.5,654.1V660.7M122.9,654.1H130.1M122.9,660.7H130.1" stroke="#e4161b" stroke-width="1.2" fill="none"/>
<path d="M146.8,659.3V668.8M143.2,659.3H150.4M143.2,668.8H150.4" stroke="#e4161b" stroke-width="1.2" fill="none"/>
<path d="M167.1,678.2V685.7M163.5,678.2H170.7M163.5,685.7H170.7" stroke="#e4161b" stroke-width="1.2" fill="none"/>
<path d="M187.4,685.3V694.7M183.8,685.3H191.0M183.8,694.7H191.0" stroke="#e4161b" stroke-width="1.2" fill="none"/>
<polyline points="45.3,566.8 85.9,572.9 106.2,629.6 126.5,657.4 146.8,664.0 167.1,682.0 187.4,690.0" fill="none" stroke="#e4161b" stroke-width="1.5" stroke-linejoin="round"/>
<circle cx="45.3" cy="566.8" r="2.9" fill="#ec5a5a" stroke="#e4161b" stroke-width="2.0"/>
<circle cx="85.9" cy="572.9" r="2.9" fill="#ec5a5a" stroke="#e4161b" stroke-width="2.0"/>
<circle cx="106.2" cy="629.6" r="2.9" fill="#ec5a5a" stroke="#e4161b" stroke-width="2.0"/>
<circle cx="126.5" cy="657.4" r="2.9" fill="#ec5a5a" stroke="#e4161b" stroke-width="2.0"/>
<circle cx="146.8" cy="664.0" r="2.9" fill="#ec5a5a" stroke="#e4161b" stroke-width="2.0"/>
<circle cx="167.1" cy="682.0" r="2.9" fill="#ec5a5a" stroke="#e4161b" stroke-width="2.0"/>
<circle cx="187.4" cy="690.0" r="2.9" fill="#ec5a5a" stroke="#e4161b" stroke-width="2.0"/>
<path d="M85.9,578.1V583.8M82.3,578.1H89.5M82.3,583.8H89.5" stroke="#111" stroke-width="1.2" fill="none"/>
<path d="M106.2,624.4V634.8M102.6,624.4H109.8M102.6,634.8H109.8" stroke="#111" stroke-width="1.2" fill="none"/>
<path d="M126.5,649.9V659.3M122.9,649.9H130.1M122.9,659.3H130.1" stroke="#111" stroke-width="1.2" fill="none"/>
<path d="M146.8,659.3V672.5M143.2,659.3H150.4M143.2,672.5H150.4" stroke="#111" stroke-width="1.2" fill="none"/>
<path d="M167.1,662.1V685.7M163.5,662.1H170.7M163.5,685.7H170.7" stroke="#111" stroke-width="1.2" fill="none"/>
<path d="M187.4,646.6V688.1M183.8,646.6H191.0M183.8,688.1H191.0" stroke="#111" stroke-width="1.2" fill="none"/>
<path d="M207.7,612.6V646.6M204.1,612.6H211.3M204.1,646.6H211.3" stroke="#111" stroke-width="1.2" fill="none"/>
<path d="M228.0,611.6V630.5M224.4,611.6H231.6M224.4,630.5H231.6" stroke="#111" stroke-width="1.2" fill="none"/>
<path d="M248.3,599.8V621.6M244.7,599.8H251.9M244.7,621.6H251.9" stroke="#111" stroke-width="1.2" fill="none"/>
<path d="M288.9,588.5V620.6M285.3,588.5H292.5M285.3,620.6H292.5" stroke="#111" stroke-width="1.2" fill="none"/>
<path d="M329.5,592.3V599.8M325.9,592.3H333.1M325.9,599.8H333.1" stroke="#111" stroke-width="1.2" fill="none"/>
<polyline points="45.3,566.8 85.9,581.0 106.2,629.6 126.5,654.6 146.8,665.9 167.1,673.9 187.4,667.3 207.7,629.6 228.0,621.1 248.3,610.7 288.9,604.6 329.5,596.1" fill="none" stroke="#111" stroke-width="1.5" stroke-linejoin="round"/>
<path d="M45.3,563.0L49.1,569.8L41.5,569.8Z" fill="none" stroke="#111" stroke-width="1.2" stroke-linejoin="round"/>
<path d="M85.9,577.2L89.7,584.0L82.1,584.0Z" fill="none" stroke="#111" stroke-width="1.2" stroke-linejoin="round"/>
<path d="M106.2,625.8L110.0,632.6L102.4,632.6Z" fill="none" stroke="#111" stroke-width="1.2" stroke-linejoin="round"/>
<path d="M126.5,650.8L130.3,657.6L122.7,657.6Z" fill="none" stroke="#111" stroke-width="1.2" stroke-linejoin="round"/>
<path d="M146.8,662.1L150.6,669.0L143.0,669.0Z" fill="none" stroke="#111" stroke-width="1.2" stroke-linejoin="round"/>
<path d="M167.1,670.1L170.9,677.0L163.3,677.0Z" fill="none" stroke="#111" stroke-width="1.2" stroke-linejoin="round"/>
<path d="M187.4,663.5L191.2,670.4L183.6,670.4Z" fill="none" stroke="#111" stroke-width="1.2" stroke-linejoin="round"/>
<path d="M207.7,625.8L211.5,632.6L203.9,632.6Z" fill="none" stroke="#111" stroke-width="1.2" stroke-linejoin="round"/>
<path d="M228.0,617.3L231.8,624.1L224.2,624.1Z" fill="none" stroke="#111" stroke-width="1.2" stroke-linejoin="round"/>
<path d="M248.3,606.9L252.1,613.7L244.5,613.7Z" fill="none" stroke="#111" stroke-width="1.2" stroke-linejoin="round"/>
<path d="M288.9,600.8L292.7,607.6L285.1,607.6Z" fill="none" stroke="#111" stroke-width="1.2" stroke-linejoin="round"/>
<path d="M329.5,592.3L333.3,599.1L325.7,599.1Z" fill="none" stroke="#111" stroke-width="1.2" stroke-linejoin="round"/>
<path d="M85.9,580.5V585.2M82.3,580.5H89.5M82.3,585.2H89.5" stroke="#111" stroke-width="1.2" fill="none"/>
<path d="M106.2,628.2V635.7M102.6,628.2H109.8M102.6,635.7H109.8" stroke="#111" stroke-width="1.2" fill="none"/>
<path d="M126.5,647.5V656.0M122.9,647.5H130.1M122.9,656.0H130.1" stroke="#111" stroke-width="1.2" fill="none"/>
<path d="M146.8,643.3V665.9M143.2,643.3H150.4M143.2,665.9H150.4" stroke="#111" stroke-width="1.2" fill="none"/>
<path d="M167.1,631.0V656.5M163.5,631.0H170.7M163.5,656.5H170.7" stroke="#111" stroke-width="1.2" fill="none"/>
<path d="M187.4,617.8V648.0M183.8,617.8H191.0M183.8,648.0H191.0" stroke="#111" stroke-width="1.2" fill="none"/>
<path d="M207.7,613.1V641.4M204.1,613.1H211.3M204.1,641.4H211.3" stroke="#111" stroke-width="1.2" fill="none"/>
<path d="M228.0,606.0V623.9M224.4,606.0H231.6M224.4,623.9H231.6" stroke="#111" stroke-width="1.2" fill="none"/>
<path d="M248.3,599.8V623.4M244.7,599.8H251.9M244.7,623.4H251.9" stroke="#111" stroke-width="1.2" fill="none"/>
<path d="M288.9,589.0V614.5M285.3,589.0H292.5M285.3,614.5H292.5" stroke="#111" stroke-width="1.2" fill="none"/>
<path d="M329.5,590.4V598.9M325.9,590.4H333.1M325.9,598.9H333.1" stroke="#111" stroke-width="1.2" fill="none"/>
<polyline points="45.3,566.8 85.9,582.8 106.2,631.9 126.5,651.8 146.8,654.6 167.1,643.7 187.4,632.9 207.7,627.2 228.0,614.9 248.3,611.6 288.9,601.7 329.5,594.6" fill="none" stroke="#111" stroke-width="1.5" stroke-linejoin="round"/>
<rect x="41.8" y="563.3" width="7.0" height="7.0" rx="0.8" fill="none" stroke="#111" stroke-width="1.2"/>
<rect x="82.4" y="579.3" width="7.0" height="7.0" rx="0.8" fill="none" stroke="#111" stroke-width="1.2"/>
<rect x="102.7" y="628.4" width="7.0" height="7.0" rx="0.8" fill="none" stroke="#111" stroke-width="1.2"/>
<rect x="123.0" y="648.3" width="7.0" height="7.0" rx="0.8" fill="none" stroke="#111" stroke-width="1.2"/>
<rect x="143.3" y="651.1" width="7.0" height="7.0" rx="0.8" fill="none" stroke="#111" stroke-width="1.2"/>
<rect x="163.6" y="640.2" width="7.0" height="7.0" rx="0.8" fill="none" stroke="#111" stroke-width="1.2"/>
<rect x="183.9" y="629.4" width="7.0" height="7.0" rx="0.8" fill="none" stroke="#111" stroke-width="1.2"/>
<rect x="204.2" y="623.7" width="7.0" height="7.0" rx="0.8" fill="none" stroke="#111" stroke-width="1.2"/>
<rect x="224.5" y="611.4" width="7.0" height="7.0" rx="0.8" fill="none" stroke="#111" stroke-width="1.2"/>
<rect x="244.8" y="608.1" width="7.0" height="7.0" rx="0.8" fill="none" stroke="#111" stroke-width="1.2"/>
<rect x="285.4" y="598.2" width="7.0" height="7.0" rx="0.8" fill="none" stroke="#111" stroke-width="1.2"/>
<rect x="326.0" y="591.1" width="7.0" height="7.0" rx="0.8" fill="none" stroke="#111" stroke-width="1.2"/>
<path d="M85.9,558.8V567.3M82.3,558.8H89.5M82.3,567.3H89.5" stroke="#111" stroke-width="1.2" fill="none"/>
<path d="M106.2,562.1V570.6M102.6,562.1H109.8M102.6,570.6H109.8" stroke="#111" stroke-width="1.2" fill="none"/>
<path d="M126.5,557.4V566.8M122.9,557.4H130.1M122.9,566.8H130.1" stroke="#111" stroke-width="1.2" fill="none"/>
<path d="M146.8,560.2V567.7M143.2,560.2H150.4M143.2,567.7H150.4" stroke="#111" stroke-width="1.2" fill="none"/>
<path d="M167.1,555.9V567.3M163.5,555.9H170.7M163.5,567.3H170.7" stroke="#111" stroke-width="1.2" fill="none"/>
<path d="M187.4,551.2V559.7M183.8,551.2H191.0M183.8,559.7H191.0" stroke="#111" stroke-width="1.2" fill="none"/>
<path d="M207.7,550.3V560.7M204.1,550.3H211.3M204.1,560.7H211.3" stroke="#111" stroke-width="1.2" fill="none"/>
<path d="M228.0,553.1V560.7M224.4,553.1H231.6M224.4,560.7H231.6" stroke="#111" stroke-width="1.2" fill="none"/>
<path d="M288.9,548.9V557.4M285.3,548.9H292.5M285.3,557.4H292.5" stroke="#111" stroke-width="1.2" fill="none"/>
<path d="M329.5,541.8V553.1M325.9,541.8H333.1M325.9,553.1H333.1" stroke="#111" stroke-width="1.2" fill="none"/>
<polyline points="45.3,566.8 85.9,563.0 106.2,566.3 126.5,562.1 146.8,564.0 167.1,561.6 187.4,555.5 207.7,555.5 228.0,556.9 248.3,558.8 288.9,553.1 329.5,547.4" fill="none" stroke="#111" stroke-width="1.5" stroke-linejoin="round"/>
<path d="M41.7,566.8H48.9M45.3,563.2V570.4M42.7,564.2L47.9,569.4M42.7,569.4L47.9,564.2" stroke="#111" stroke-width="1.3" fill="none"/>
<path d="M82.3,563.0H89.5M85.9,559.4V566.6M83.3,560.4L88.5,565.6M83.3,565.6L88.5,560.4" stroke="#111" stroke-width="1.3" fill="none"/>
<path d="M102.6,566.3H109.8M106.2,562.7V569.9M103.6,563.7L108.8,568.9M103.6,568.9L108.8,563.7" stroke="#111" stroke-width="1.3" fill="none"/>
<path d="M122.9,562.1H130.1M126.5,558.5V565.7M123.9,559.5L129.1,564.7M123.9,564.7L129.1,559.5" stroke="#111" stroke-width="1.3" fill="none"/>
<path d="M143.2,564.0H150.4M146.8,560.4V567.6M144.2,561.4L149.4,566.6M144.2,566.6L149.4,561.4" stroke="#111" stroke-width="1.3" fill="none"/>
<path d="M163.5,561.6H170.7M167.1,558.0V565.2M164.5,559.0L169.7,564.2M164.5,564.2L169.7,559.0" stroke="#111" stroke-width="1.3" fill="none"/>
<path d="M183.8,555.5H191.0M187.4,551.9V559.1M184.8,552.9L190.0,558.1M184.8,558.1L190.0,552.9" stroke="#111" stroke-width="1.3" fill="none"/>
<path d="M204.1,555.5H211.3M207.7,551.9V559.1M205.1,552.9L210.3,558.1M205.1,558.1L210.3,552.9" stroke="#111" stroke-width="1.3" fill="none"/>
<path d="M224.4,556.9H231.6M228.0,553.3V560.5M225.4,554.3L230.6,559.5M225.4,559.5L230.6,554.3" stroke="#111" stroke-width="1.3" fill="none"/>
<path d="M244.7,558.8H251.9M248.3,555.2V562.4M245.7,556.2L250.9,561.4M245.7,561.4L250.9,556.2" stroke="#111" stroke-width="1.3" fill="none"/>
<path d="M285.3,553.1H292.5M288.9,549.5V556.7M286.3,550.5L291.5,555.7M286.3,555.7L291.5,550.5" stroke="#111" stroke-width="1.3" fill="none"/>
<path d="M325.9,547.4H333.1M329.5,543.8V551.0M326.9,544.9L332.1,550.0M326.9,550.0L332.1,544.9" stroke="#111" stroke-width="1.3" fill="none"/>
<ellipse cx="45.3" cy="566.8" rx="4.8" ry="4.0" fill="#3a1212"/>
<line x1="410.4" y1="67.4" x2="410.4" y2="201.4" stroke="#111" stroke-width="2.2" />
<line x1="409.3" y1="200.3" x2="676.0" y2="200.3" stroke="#111" stroke-width="2.2" />
<line x1="405.9" y1="200.3" x2="410.4" y2="200.3" stroke="#111" stroke-width="2.0" />
<text x="404.9" y="205.9" font-size="14.5" text-anchor="end" fill="#111" textLength="8.2" lengthAdjust="spacingAndGlyphs" stroke="#111" stroke-width="0.45" >0</text>
<line x1="405.9" y1="167.3" x2="410.4" y2="167.3" stroke="#111" stroke-width="2.0" />
<text x="404.9" y="172.9" font-size="14.5" text-anchor="end" fill="#111" textLength="16.3" lengthAdjust="spacingAndGlyphs" stroke="#111" stroke-width="0.45" >25</text>
<line x1="405.9" y1="134.4" x2="410.4" y2="134.4" stroke="#111" stroke-width="2.0" />
<text x="404.9" y="140.0" font-size="14.5" text-anchor="end" fill="#111" textLength="16.3" lengthAdjust="spacingAndGlyphs" stroke="#111" stroke-width="0.45" >50</text>
<line x1="405.9" y1="101.4" x2="410.4" y2="101.4" stroke="#111" stroke-width="2.0" />
<text x="404.9" y="107.0" font-size="14.5" text-anchor="end" fill="#111" textLength="16.3" lengthAdjust="spacingAndGlyphs" stroke="#111" stroke-width="0.45" >75</text>
<line x1="405.9" y1="68.4" x2="410.4" y2="68.4" stroke="#111" stroke-width="2.0" />
<text x="404.9" y="74.0" font-size="14.5" text-anchor="end" fill="#111" textLength="23.3" lengthAdjust="spacingAndGlyphs" stroke="#111" stroke-width="0.45" >100</text>
<line x1="410.4" y1="200.3" x2="410.4" y2="204.8" stroke="#111" stroke-width="2.0" />
<text x="410.4" y="219.4" font-size="14.5" text-anchor="middle" fill="#111" textLength="8.2" lengthAdjust="spacingAndGlyphs" stroke="#111" stroke-width="0.45" >0</text>
<line x1="448.2" y1="200.3" x2="448.2" y2="204.8" stroke="#111" stroke-width="2.0" />
<text x="448.2" y="219.4" font-size="14.5" text-anchor="middle" fill="#111" textLength="8.2" lengthAdjust="spacingAndGlyphs" stroke="#111" stroke-width="0.45" >2</text>
<line x1="486.0" y1="200.3" x2="486.0" y2="204.8" stroke="#111" stroke-width="2.0" />
<text x="486.0" y="219.4" font-size="14.5" text-anchor="middle" fill="#111" textLength="8.2" lengthAdjust="spacingAndGlyphs" stroke="#111" stroke-width="0.45" >4</text>
<line x1="523.8" y1="200.3" x2="523.8" y2="204.8" stroke="#111" stroke-width="2.0" />
<text x="523.8" y="219.4" font-size="14.5" text-anchor="middle" fill="#111" textLength="8.2" lengthAdjust="spacingAndGlyphs" stroke="#111" stroke-width="0.45" >6</text>
<line x1="561.6" y1="200.3" x2="561.6" y2="204.8" stroke="#111" stroke-width="2.0" />
<text x="561.6" y="219.4" font-size="14.5" text-anchor="middle" fill="#111" textLength="8.2" lengthAdjust="spacingAndGlyphs" stroke="#111" stroke-width="0.45" >8</text>
<line x1="599.4" y1="200.3" x2="599.4" y2="204.8" stroke="#111" stroke-width="2.0" />
<text x="599.4" y="219.4" font-size="14.5" text-anchor="middle" fill="#111" textLength="16.3" lengthAdjust="spacingAndGlyphs" stroke="#111" stroke-width="0.45" >10</text>
<line x1="637.2" y1="200.3" x2="637.2" y2="204.8" stroke="#111" stroke-width="2.0" />
<text x="637.2" y="219.4" font-size="14.5" text-anchor="middle" fill="#111" textLength="16.3" lengthAdjust="spacingAndGlyphs" stroke="#111" stroke-width="0.45" >12</text>
<line x1="675.0" y1="200.3" x2="675.0" y2="204.8" stroke="#111" stroke-width="2.0" />
<text x="675.0" y="219.4" font-size="14.5" text-anchor="middle" fill="#111" textLength="16.3" lengthAdjust="spacingAndGlyphs" stroke="#111" stroke-width="0.45" >14</text>
<text x="543.1" y="241.7" font-size="16.5" text-anchor="middle" fill="#111" textLength="31" lengthAdjust="spacingAndGlyphs" stroke="#111" stroke-width="0.45" >Day</text>
<text x="0" y="0" font-size="17.5" text-anchor="middle" fill="#111" stroke="#111" stroke-width="0.5" textLength="136.5" lengthAdjust="spacingAndGlyphs" transform="translate(371.5,132.8) rotate(-90)">Percent survival</text>
<polyline points="410.4,68.4 542.7,68.4 542.7,173.9 599.4,173.9 599.4,200.3" fill="none" stroke="#e4161b" stroke-width="1.9" stroke-linejoin="round"/>
<polyline points="410.4,68.4 542.7,68.4 542.7,94.8 561.6,94.8 561.6,147.5 675.0,147.5" fill="none" stroke="#111" stroke-width="2.0" stroke-linejoin="round"/>
<line x1="410.4" y1="68.4" x2="675.0" y2="68.4" stroke="#111" stroke-width="2.3" />
<circle cx="542.7" cy="173.9" r="4.0" fill="none" stroke="#e4161b" stroke-width="2.7"/>
<circle cx="599.4" cy="200.3" r="4.0" fill="none" stroke="#e4161b" stroke-width="2.7"/>
<path d="M542.9,89.8L548.3,99.4L537.5,99.4Z" fill="none" stroke="#111" stroke-width="1.6" stroke-linejoin="round"/>
<path d="M561.8,142.5L567.2,152.1L556.4,152.1Z" fill="none" stroke="#111" stroke-width="1.6" stroke-linejoin="round"/>
<path d="M675.8,142.5L681.2,152.1L670.4,152.1Z" fill="none" stroke="#111" stroke-width="1.6" stroke-linejoin="round"/>
<rect x="670.5" y="63.3" width="10.6" height="10.2" fill="#7a7a7a" stroke="#1a1a1a" stroke-width="1.6"/>
<rect x="673.2" y="65.9" width="5.2" height="5.0" fill="none" stroke="#ddd" stroke-width="0.8"/>
<path d="M672.8,68.4H678.8M675.8,65.4V71.4M673.6,66.2L678.0,70.6M673.6,70.6L678.0,66.2" stroke="#111" stroke-width="1.3" fill="none"/>
<line x1="414.1" y1="314.0" x2="414.1" y2="446.1" stroke="#111" stroke-width="2.2" />
<line x1="413.0" y1="445.0" x2="675.5" y2="445.0" stroke="#111" stroke-width="2.2" />
<line x1="409.6" y1="445.0" x2="414.1" y2="445.0" stroke="#111" stroke-width="2.0" />
<text x="408.6" y="450.6" font-size="14.5" text-anchor="end" fill="#111" textLength="8.2" lengthAdjust="spacingAndGlyphs" stroke="#111" stroke-width="0.45" >0</text>
<line x1="409.6" y1="412.5" x2="414.1" y2="412.5" stroke="#111" stroke-width="2.0" />
<text x="408.6" y="418.1" font-size="14.5" text-anchor="end" fill="#111" textLength="16.3" lengthAdjust="spacingAndGlyphs" stroke="#111" stroke-width="0.45" >25</text>
<line x1="409.6" y1="380.0" x2="414.1" y2="380.0" stroke="#111" stroke-width="2.0" />
<text x="408.6" y="385.6" font-size="14.5" text-anchor="end" fill="#111" textLength="16.3" lengthAdjust="spacingAndGlyphs" stroke="#111" stroke-width="0.45" >50</text>
<line x1="409.6" y1="347.5" x2="414.1" y2="347.5" stroke="#111" stroke-width="2.0" />
<text x="408.6" y="353.1" font-size="14.5" text-anchor="end" fill="#111" textLength="16.3" lengthAdjust="spacingAndGlyphs" stroke="#111" stroke-width="0.45" >75</text>
<line x1="409.6" y1="315.0" x2="414.1" y2="315.0" stroke="#111" stroke-width="2.0" />
<text x="408.6" y="320.6" font-size="14.5" text-anchor="end" fill="#111" textLength="23.3" lengthAdjust="spacingAndGlyphs" stroke="#111" stroke-width="0.45" >100</text>
<line x1="414.1" y1="445.0" x2="414.1" y2="449.5" stroke="#111" stroke-width="2.0" />
<text x="414.1" y="462.4" font-size="14.5" text-anchor="middle" fill="#111" textLength="8.2" lengthAdjust="spacingAndGlyphs" stroke="#111" stroke-width="0.45" >0</text>
<line x1="451.3" y1="445.0" x2="451.3" y2="449.5" stroke="#111" stroke-width="2.0" />
<text x="451.3" y="462.4" font-size="14.5" text-anchor="middle" fill="#111" textLength="8.2" lengthAdjust="spacingAndGlyphs" stroke="#111" stroke-width="0.45" >2</text>
<line x1="488.5" y1="445.0" x2="488.5" y2="449.5" stroke="#111" stroke-width="2.0" />
<text x="488.5" y="462.4" font-size="14.5" text-anchor="middle" fill="#111" textLength="8.2" lengthAdjust="spacingAndGlyphs" stroke="#111" stroke-width="0.45" >4</text>
<line x1="525.7" y1="445.0" x2="525.7" y2="449.5" stroke="#111" stroke-width="2.0" />
<text x="525.7" y="462.4" font-size="14.5" text-anchor="middle" fill="#111" textLength="8.2" lengthAdjust="spacingAndGlyphs" stroke="#111" stroke-width="0.45" >6</text>
<line x1="562.9" y1="445.0" x2="562.9" y2="449.5" stroke="#111" stroke-width="2.0" />
<text x="562.9" y="462.4" font-size="14.5" text-anchor="middle" fill="#111" textLength="8.2" lengthAdjust="spacingAndGlyphs" stroke="#111" stroke-width="0.45" >8</text>
<line x1="600.1" y1="445.0" x2="600.1" y2="449.5" stroke="#111" stroke-width="2.0" />
<text x="600.1" y="462.4" font-size="14.5" text-anchor="middle" fill="#111" textLength="16.3" lengthAdjust="spacingAndGlyphs" stroke="#111" stroke-width="0.45" >10</text>
<line x1="637.3" y1="445.0" x2="637.3" y2="449.5" stroke="#111" stroke-width="2.0" />
<text x="637.3" y="462.4" font-size="14.5" text-anchor="middle" fill="#111" textLength="16.3" lengthAdjust="spacingAndGlyphs" stroke="#111" stroke-width="0.45" >12</text>
<line x1="674.5" y1="445.0" x2="674.5" y2="449.5" stroke="#111" stroke-width="2.0" />
<text x="674.5" y="462.4" font-size="14.5" text-anchor="middle" fill="#111" textLength="16.3" lengthAdjust="spacingAndGlyphs" stroke="#111" stroke-width="0.45" >14</text>
<text x="544.4" y="486.3" font-size="16.5" text-anchor="middle" fill="#111" textLength="31" lengthAdjust="spacingAndGlyphs" stroke="#111" stroke-width="0.45" >Day</text>
<text x="0" y="0" font-size="17.5" text-anchor="middle" fill="#111" stroke="#111" stroke-width="0.5" textLength="135.3" lengthAdjust="spacingAndGlyphs" transform="translate(375.2,377.4) rotate(-90)">Percent survival</text>
<polyline points="414.1,315.0 507.1,315.0 507.1,341.0 525.7,341.0 525.7,445.0" fill="none" stroke="#e4161b" stroke-width="1.9" stroke-linejoin="round"/>
<polyline points="414.1,315.0 525.7,315.0 525.7,347.5 674.5,347.5" fill="none" stroke="#111" stroke-width="2.0" stroke-linejoin="round"/>
<line x1="414.1" y1="315.0" x2="674.5" y2="315.0" stroke="#111" stroke-width="2.3" />
<circle cx="507.1" cy="341.0" r="4.0" fill="none" stroke="#e4161b" stroke-width="2.7"/>
<circle cx="525.7" cy="445.0" r="4.0" fill="none" stroke="#e4161b" stroke-width="2.7"/>
<path d="M525.9,342.5L531.3,352.1L520.5,352.1Z" fill="none" stroke="#111" stroke-width="1.6" stroke-linejoin="round"/>
<path d="M675.3,342.5L680.7,352.1L669.9,352.1Z" fill="none" stroke="#111" stroke-width="1.6" stroke-linejoin="round"/>
<rect x="670.0" y="309.9" width="10.6" height="10.2" fill="#7a7a7a" stroke="#1a1a1a" stroke-width="1.6"/>
<rect x="672.7" y="312.5" width="5.2" height="5.0" fill="none" stroke="#ddd" stroke-width="0.8"/>
<path d="M672.3,315.0H678.3M675.3,312.0V318.0M673.1,312.8L677.5,317.2M673.1,317.2L677.5,312.8" stroke="#111" stroke-width="1.3" fill="none"/>
<line x1="411.7" y1="560.8" x2="411.7" y2="692.7" stroke="#111" stroke-width="2.2" />
<line x1="410.6" y1="691.6" x2="673.7" y2="691.6" stroke="#111" stroke-width="2.2" />
<line x1="407.2" y1="691.6" x2="411.7" y2="691.6" stroke="#111" stroke-width="2.0" />
<text x="406.2" y="697.2" font-size="14.5" text-anchor="end" fill="#111" textLength="8.2" lengthAdjust="spacingAndGlyphs" stroke="#111" stroke-width="0.45" >0</text>
<line x1="407.2" y1="659.1" x2="411.7" y2="659.1" stroke="#111" stroke-width="2.0" />
<text x="406.2" y="664.8" font-size="14.5" text-anchor="end" fill="#111" textLength="16.3" lengthAdjust="spacingAndGlyphs" stroke="#111" stroke-width="0.45" >25</text>
<line x1="407.2" y1="626.7" x2="411.7" y2="626.7" stroke="#111" stroke-width="2.0" />
<text x="406.2" y="632.3" font-size="14.5" text-anchor="end" fill="#111" textLength="16.3" lengthAdjust="spacingAndGlyphs" stroke="#111" stroke-width="0.45" >50</text>
<line x1="407.2" y1="594.2" x2="411.7" y2="594.2" stroke="#111" stroke-width="2.0" />
<text x="406.2" y="599.9" font-size="14.5" text-anchor="end" fill="#111" textLength="16.3" lengthAdjust="spacingAndGlyphs" stroke="#111" stroke-width="0.45" >75</text>
<line x1="407.2" y1="561.8" x2="411.7" y2="561.8" stroke="#111" stroke-width="2.0" />
<text x="406.2" y="567.4" font-size="14.5" text-anchor="end" fill="#111" textLength="23.3" lengthAdjust="spacingAndGlyphs" stroke="#111" stroke-width="0.45" >100</text>
<line x1="411.7" y1="691.6" x2="411.7" y2="696.1" stroke="#111" stroke-width="2.0" />
<text x="411.7" y="710.9" font-size="14.5" text-anchor="middle" fill="#111" textLength="8.2" lengthAdjust="spacingAndGlyphs" stroke="#111" stroke-width="0.45" >0</text>
<line x1="449.0" y1="691.6" x2="449.0" y2="696.1" stroke="#111" stroke-width="2.0" />
<text x="449.0" y="710.9" font-size="14.5" text-anchor="middle" fill="#111" textLength="8.2" lengthAdjust="spacingAndGlyphs" stroke="#111" stroke-width="0.45" >2</text>
<line x1="486.3" y1="691.6" x2="486.3" y2="696.1" stroke="#111" stroke-width="2.0" />
<text x="486.3" y="710.9" font-size="14.5" text-anchor="middle" fill="#111" textLength="8.2" lengthAdjust="spacingAndGlyphs" stroke="#111" stroke-width="0.45" >4</text>
<line x1="523.5" y1="691.6" x2="523.5" y2="696.1" stroke="#111" stroke-width="2.0" />
<text x="523.5" y="710.9" font-size="14.5" text-anchor="middle" fill="#111" textLength="8.2" lengthAdjust="spacingAndGlyphs" stroke="#111" stroke-width="0.45" >6</text>
<line x1="560.8" y1="691.6" x2="560.8" y2="696.1" stroke="#111" stroke-width="2.0" />
<text x="560.8" y="710.9" font-size="14.5" text-anchor="middle" fill="#111" textLength="8.2" lengthAdjust="spacingAndGlyphs" stroke="#111" stroke-width="0.45" >8</text>
<line x1="598.1" y1="691.6" x2="598.1" y2="696.1" stroke="#111" stroke-width="2.0" />
<text x="598.1" y="710.9" font-size="14.5" text-anchor="middle" fill="#111" textLength="16.3" lengthAdjust="spacingAndGlyphs" stroke="#111" stroke-width="0.45" >10</text>
<line x1="635.4" y1="691.6" x2="635.4" y2="696.1" stroke="#111" stroke-width="2.0" />
<text x="635.4" y="710.9" font-size="14.5" text-anchor="middle" fill="#111" textLength="16.3" lengthAdjust="spacingAndGlyphs" stroke="#111" stroke-width="0.45" >12</text>
<line x1="672.7" y1="691.6" x2="672.7" y2="696.1" stroke="#111" stroke-width="2.0" />
<text x="672.7" y="710.9" font-size="14.5" text-anchor="middle" fill="#111" textLength="16.3" lengthAdjust="spacingAndGlyphs" stroke="#111" stroke-width="0.45" >14</text>
<text x="541.8" y="732.3" font-size="16.5" text-anchor="middle" fill="#111" textLength="31" lengthAdjust="spacingAndGlyphs" stroke="#111" stroke-width="0.45" >Day</text>
<text x="0" y="0" font-size="17.5" text-anchor="middle" fill="#111" stroke="#111" stroke-width="0.5" textLength="134.9" lengthAdjust="spacingAndGlyphs" transform="translate(374.1,624.5) rotate(-90)">Percent survival</text>
<polyline points="411.7,561.8 523.5,561.8 523.5,639.7 542.2,639.7 542.2,691.6" fill="none" stroke="#e4161b" stroke-width="1.9" stroke-linejoin="round"/>
<polyline points="411.7,561.8 523.5,561.8 523.5,587.8 542.2,587.8 542.2,639.7 672.7,639.7" fill="none" stroke="#111" stroke-width="2.0" stroke-linejoin="round"/>
<line x1="411.7" y1="561.8" x2="672.7" y2="561.8" stroke="#111" stroke-width="2.3" />
<circle cx="523.5" cy="639.7" r="4.0" fill="none" stroke="#e4161b" stroke-width="2.7"/>
<circle cx="542.2" cy="691.6" r="4.0" fill="none" stroke="#e4161b" stroke-width="2.7"/>
<path d="M523.7,582.8L529.1,592.4L518.3,592.4Z" fill="none" stroke="#111" stroke-width="1.6" stroke-linejoin="round"/>
<path d="M542.4,634.7L547.8,644.3L537.0,644.3Z" fill="none" stroke="#111" stroke-width="1.6" stroke-linejoin="round"/>
<path d="M673.5,634.7L678.9,644.3L668.1,644.3Z" fill="none" stroke="#111" stroke-width="1.6" stroke-linejoin="round"/>
<rect x="668.2" y="556.7" width="10.6" height="10.2" fill="#7a7a7a" stroke="#1a1a1a" stroke-width="1.6"/>
<rect x="670.9" y="559.3" width="5.2" height="5.0" fill="none" stroke="#ddd" stroke-width="0.8"/>
<path d="M670.5,561.8H676.5M673.5,558.8V564.8M671.3,559.6L675.6,564.0M671.3,564.0L675.6,559.6" stroke="#111" stroke-width="1.3" fill="none"/>
<line x1="167.3" y1="756.3" x2="186.6" y2="756.3" stroke="#111" stroke-width="2.0" />
<path d="M171.2,756.3H182.4M176.8,750.7V761.9M172.8,752.3L180.8,760.3M172.8,760.3L180.8,752.3" stroke="#111" stroke-width="1.8" fill="none"/>
<text x="194.8" y="761.9" font-size="14.5" text-anchor="start" fill="#111" textLength="35.6" lengthAdjust="spacingAndGlyphs" stroke="#111" stroke-width="0.45" >1E10</text>
<line x1="268.4" y1="756.3" x2="287.1" y2="756.3" stroke="#111" stroke-width="2.0" />
<rect x="271.6" y="750.3" width="12.4" height="11.6" rx="2" fill="none" stroke="#111" stroke-width="1.9"/>
<text x="295.3" y="761.9" font-size="14.5" text-anchor="start" fill="#111" textLength="25.0" lengthAdjust="spacingAndGlyphs" stroke="#111" stroke-width="0.45" >5E7</text>
<line x1="352.0" y1="756.3" x2="370.7" y2="756.3" stroke="#111" stroke-width="2.0" />
<path d="M361.4,751.2L367.0,761.2L355.6,761.2Z" fill="none" stroke="#111" stroke-width="1.9" stroke-linejoin="round"/>
<text x="378.9" y="761.9" font-size="14.5" text-anchor="start" fill="#111" textLength="25.5" lengthAdjust="spacingAndGlyphs" stroke="#111" stroke-width="0.45" >1e7</text>
<line x1="435.0" y1="756.3" x2="454.3" y2="756.3" stroke="#801830" stroke-width="2.0" />
<circle cx="444.6" cy="756.3" r="4.1" fill="#fff" stroke="#e4161b" stroke-width="2.9"/>
<text x="462.2" y="761.9" font-size="14.5" text-anchor="start" fill="#111" textLength="44.6" lengthAdjust="spacingAndGlyphs" stroke="#111" stroke-width="0.45" >DPBS</text>
</svg>
</body></html>
